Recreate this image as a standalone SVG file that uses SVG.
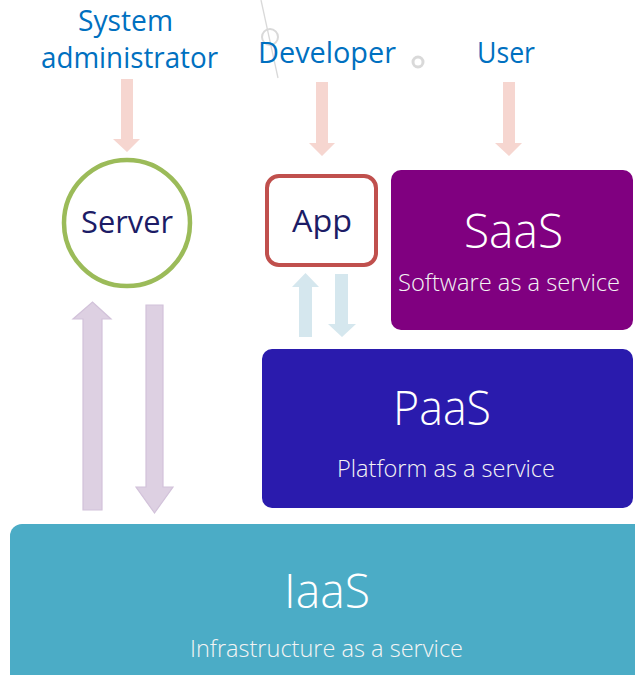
<svg xmlns="http://www.w3.org/2000/svg" width="635" height="675" viewBox="0 0 635 675">
  <style>
    text { font-family: "Open Sans", "Noto Sans", "DejaVu Sans", sans-serif; }
    .role { font-size: 30px; fill: #0070c0; }
    .nodeLabel { font-size: 31px; fill: #1c1c66; }
    .title { font-size: 47px; fill: #ffffff; font-weight: 300; }
    .sub { font-size: 24px; fill: #f4f4f4; font-weight: 300; }
    .pink { fill: #f6d6d0; }
    .lilac { fill: #ddd0e2; stroke: #d2c2da; stroke-width: 1.2; }
    .blue { fill: #d5e7ee; }
    .deco { fill: none; stroke: #d9d9d9; }
  </style>

  <rect width="635" height="675" fill="#ffffff"/>

  <!-- faint leftover artifacts from the source slide -->
  <g id="artifacts">
    <line class="deco" x1="261" y1="0" x2="278" y2="78" stroke-width="1.3"/>
    <circle class="deco" cx="270" cy="37" r="8" stroke-width="2" stroke="#e6e6e6"/>
    <circle class="deco" cx="418" cy="62" r="5" stroke-width="3" stroke="#d0d0d0"/>
  </g>

  <g id="actor-sysadmin">
    <text class="role" x="78" y="31" font-size="28" textLength="95" lengthAdjust="spacingAndGlyphs">System</text>
    <text class="role" x="41" y="68" textLength="177" lengthAdjust="spacingAndGlyphs">administrator</text>
  </g>
  <g id="actor-developer">
    <text class="role" x="258" y="63" textLength="138" lengthAdjust="spacingAndGlyphs">Developer</text>
  </g>
  <g id="actor-user">
    <text class="role" x="477" y="63" textLength="58" lengthAdjust="spacingAndGlyphs">User</text>
  </g>

  <g id="node-iaas">
    <rect x="10" y="524" width="640" height="170" rx="12" fill="#4bacc6"/>
    <text class="title" x="284" y="608" textLength="86" lengthAdjust="spacingAndGlyphs">IaaS</text>
    <text class="sub" x="190" y="657" textLength="273" lengthAdjust="spacingAndGlyphs">Infrastructure as a service</text>
  </g>

  <g id="node-paas">
    <rect x="262" y="349" width="371" height="159" rx="10" fill="#2a1bad"/>
    <text class="title" x="393" y="425" textLength="98" lengthAdjust="spacingAndGlyphs">PaaS</text>
    <text class="sub" x="337" y="477" textLength="218" lengthAdjust="spacingAndGlyphs">Platform as a service</text>
  </g>

  <g id="node-saas">
    <rect x="391" y="170" width="242" height="160" rx="10" fill="#800080"/>
    <text class="title" x="464" y="248" textLength="99" lengthAdjust="spacingAndGlyphs">SaaS</text>
    <text class="sub" x="398" y="291" textLength="222" lengthAdjust="spacingAndGlyphs">Software as a service</text>
  </g>

  <g id="node-app">
    <rect x="267" y="176" width="109" height="89" rx="12" fill="#ffffff" stroke="#c0504d" stroke-width="4"/>
    <text class="nodeLabel" x="292" y="232" textLength="60" lengthAdjust="spacingAndGlyphs">App</text>
  </g>

  <g id="node-server">
    <circle cx="127" cy="223" r="63" fill="#ffffff" stroke="#9bbb59" stroke-width="4.5"/>
    <text class="nodeLabel" x="81" y="233" textLength="92" lengthAdjust="spacingAndGlyphs">Server</text>
  </g>

  <g id="connectors">
    <!-- actor arrows (down) -->
    <polygon class="pink" points="121,79 133,79 133,139 140,139 127,152 113,139 121,139"/>
    <polygon class="pink" points="316,82 328,82 328,143 335,143 322,156 309,143 316,143"/>
    <polygon class="pink" points="503,82 515,82 515,143 522,143 509,156 495,143 503,143"/>
    <!-- App <-> PaaS -->
    <polygon class="blue" points="299,337 312,337 312,287 319,287 305.5,273 292,287 299,287"/>
    <polygon class="blue" points="335,274 348,274 348,324 356,324 342,337 328,324 335,324"/>
    <!-- Server <-> IaaS -->
    <polygon class="lilac" points="83,510 102,510 102,319 111,319 92.5,302 73,319 83,319"/>
    <polygon class="lilac" points="146,305 163,305 163,487 173,487 154.5,513 136,487 146,487"/>
  </g>
</svg>
